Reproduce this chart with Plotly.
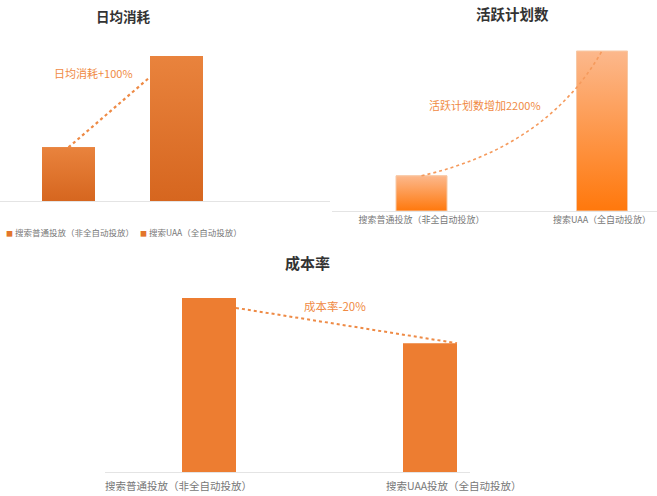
import plotly.graph_objects as go

W, H = 657, 496
FONT = "Noto Sans CJK SC"

# ---- data ----
categories = ["搜索普通投放（非全自动投放）", "搜索UAA（全自动投放）"]
categories3 = ["搜索普通投放（非全自动投放）", "搜索UAA投放（全自动投放）"]
daily_cost = [37, 100]          # 日均消耗 (relative)
active_plans = [22, 100]        # 活跃计划数 (relative)
cost_rate = [100, 74]           # 成本率 (relative)
titles = ["日均消耗", "活跃计划数", "成本率"]
notes = ["日均消耗+100%", "活跃计划数增加2200%", "成本率-20%"]

fig = go.Figure()


def px_x(p):
    return p / W


def px_y(p):
    return 1 - p / H


def axis_setup(idx, dom_px, c0_px, c1_px, base_px, top_px, unit_px):
    """Build axis layout so that category 0/1 centres land on given pixels."""
    scale = c1_px - c0_px
    xr = [(dom_px[0] - c0_px) / scale, (dom_px[1] - c0_px) / scale]
    yr = [0, (base_px - top_px) / unit_px]
    sfx = "" if idx == 1 else str(idx)
    fig.update_layout(**{
        f"xaxis{sfx}": dict(domain=[px_x(dom_px[0]), px_x(dom_px[1])], range=xr,
                            showgrid=False, zeroline=False, showline=True,
                            linecolor="#e4e4e4", linewidth=1, ticks="",
                            showticklabels=False, fixedrange=True,
                            anchor=f"y{sfx}"),
        f"yaxis{sfx}": dict(domain=[px_y(base_px), px_y(top_px)], range=yr,
                            visible=False, fixedrange=True, anchor=f"x{sfx}"),
    })


# ---------- chart 1 : 日均消耗 ----------
w1 = 53 / 108
axis_setup(1, (0, 330), 68.5, 176.5, 201, 30, 145 / daily_cost[1])
for i, v in enumerate(daily_cost):
    fig.add_trace(go.Bar(x=[i], y=[v], width=w1, marker=dict(color="#e3752b", line_width=0),
                         name=categories[i], showlegend=False, xaxis="x", yaxis="y",
                         cliponaxis=False, hoverinfo="skip"))
    fig.add_trace(go.Scatter(x=[i - w1 / 2, i + w1 / 2, i + w1 / 2, i - w1 / 2, i - w1 / 2],
                             y=[0, 0, v, v, 0], mode="lines", line_width=0, fill="toself",
                             fillgradient=dict(type="vertical",
                                               colorscale=[[0, "#d6661f"], [1, "#e9833d"]]),
                             showlegend=False, xaxis="x", yaxis="y", hoverinfo="skip"))
fig.add_trace(go.Scatter(x=[0, 1 - w1 / 2], y=[daily_cost[0], daily_cost[1] * 0.855],
                         mode="lines", line=dict(color="#ee8a45", width=2.2, dash="dot"),
                         showlegend=False, xaxis="x", yaxis="y", hoverinfo="skip"))

# ---------- chart 2 : 活跃计划数 ----------
w2 = 51 / 180.5
axis_setup(2, (332, 657), 421.5, 602, 211, 20, 160 / active_plans[1])
fig.update_layout(xaxis2=dict(showticklabels=True, tickvals=[0, 1], ticktext=categories,
                              tickfont=dict(family=FONT, size=9, color="#777777")))
for i, v in enumerate(active_plans):
    fig.add_trace(go.Bar(x=[i], y=[v], width=w2, marker=dict(color="#fd9550", line_width=0),
                         showlegend=False, xaxis="x2", yaxis="y2", cliponaxis=False,
                         hoverinfo="skip"))
    fig.add_trace(go.Scatter(x=[i - w2 / 2, i + w2 / 2, i + w2 / 2, i - w2 / 2, i - w2 / 2],
                             y=[0, 0, v, v, 0], mode="lines",
                             line=dict(color="#f7c9a6", width=1), fill="toself",
                             fillgradient=dict(type="vertical",
                                               colorscale=[[0, "#ff780c"], [1, "#fcb88c"]]),
                             showlegend=False, xaxis="x2", yaxis="y2", hoverinfo="skip"))
fig.add_shape(type="path", xref="x2", yref="y2",
              path=f"M 0,{active_plans[0]} Q 0.695,40 1,{active_plans[1]}",
              line=dict(color="#f59a5c", width=1.6, dash="dot"))

# ---------- chart 3 : 成本率 ----------
w3 = 54 / 221
axis_setup(3, (105, 470), 209, 430, 472, 255, 174 / cost_rate[0])
fig.add_trace(go.Bar(x=[0, 1], y=cost_rate, width=w3, marker=dict(color="#ed7d31", line_width=0),
                     showlegend=False, xaxis="x3", yaxis="y3", cliponaxis=False,
                     hoverinfo="skip"))
fig.add_trace(go.Scatter(x=[w3 / 2, 1 + w3 / 2], y=[cost_rate[0] * 0.943, cost_rate[1]],
                         mode="lines", line=dict(color="#ee8a45", width=2, dash="dot"),
                         showlegend=False, xaxis="x3", yaxis="y3", hoverinfo="skip"))

# ---------- text ----------
ann = []
# titles
for t, (x, y, s) in zip(titles, [(123, 16, 13.5), (512, 13, 14.5), (307, 262, 15)]):
    ann.append(dict(text=f"<b>{t}</b>", x=px_x(x), y=px_y(y), xref="paper", yref="paper",
                    xanchor="center", yanchor="middle",
                    showarrow=False, font=dict(family=FONT, size=s, color="#333333")))
# notes
for t, (x, y, s) in zip(notes, [(93, 73, 11), (485, 105, 11), (335, 306, 11.5)]):
    ann.append(dict(text=t, x=px_x(x), y=px_y(y), xref="paper", yref="paper",
                    xanchor="center", yanchor="middle",
                    showarrow=False, font=dict(family=FONT, size=s, color="#f08a44")))
# chart 1 legend
for t, x in zip(categories, [4, 138]):
    ann.append(dict(text=f"<span style='color:#e3752b;font-size:7px'>■</span> {t}",
                    x=px_x(x), y=px_y(232), xref="paper", yref="paper", xanchor="left",
                    yanchor="middle",
                    showarrow=False, font=dict(family=FONT, size=8.5, color="#777777")))
# chart 3 category labels
for i, (t, sh) in enumerate(zip(categories3, [-31, 24])):
    ann.append(dict(text=t, x=i, y=0, xref="x3", yref="y3", yanchor="top", yshift=-4,
                    xshift=sh, showarrow=False,
                    font=dict(family=FONT, size=10.5, color="#777777")))

fig.update_layout(width=W, height=H, margin=dict(l=0, r=0, t=0, b=0),
                  paper_bgcolor="white", plot_bgcolor="rgba(0,0,0,0)",
                  barmode="overlay", annotations=ann, showlegend=False,
                  font=dict(family=FONT))

fig.write_html("out.html", post_script="document.body.style.margin='0';",
               config={"displayModeBar": False, "staticPlot": True})
